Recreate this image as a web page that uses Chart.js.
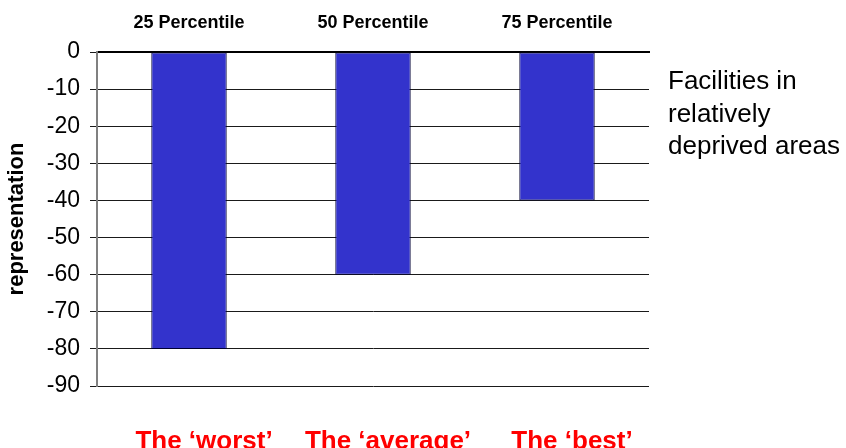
<!DOCTYPE html>
<html>
<head>
<meta charset="utf-8">
<script src="https://cdn.jsdelivr.net/npm/chart.js@4.4.1/dist/chart.umd.min.js"></script>
<style>
  html, body { margin: 0; padding: 0; background: #ffffff; }
  #wrap { width: 846px; height: 448px; }
</style>
</head>
<body>
<div id="wrap"><canvas id="c" width="846" height="448"></canvas></div>
<script>
const topLabels = ['25 Percentile', '50 Percentile', '75 Percentile'];
const bottomLabels = ['The \u2018worst\u2019', 'The \u2018average\u2019', 'The \u2018best\u2019'];
const values = [-80, -60, -40];
const yTitle = 'representation';
const seriesNameLines = ['Facilities in', 'relatively', 'deprived areas'];

const FONT = '"Liberation Sans", Arial, sans-serif';

const sideText = {
  id: 'sideText',
  afterDraw(chart) {
    const ctx = chart.ctx;
    ctx.save();
    ctx.fillStyle = '#000000';
    ctx.font = '26px ' + FONT;
    ctx.textAlign = 'left';
    ctx.textBaseline = 'alphabetic';
    const x = chart.chartArea.right + 19;
    seriesNameLines.forEach((t, i) => ctx.fillText(t, x, 89 + i * 32.5));
    ctx.restore();
  }
};

new Chart(document.getElementById('c'), {
  type: 'bar',
  data: {
    labels: topLabels,
    datasets: [{
      label: seriesNameLines.join(' '),
      data: values,
      backgroundColor: '#3333CC',
      borderColor: '#000033',
      borderWidth: 1,
      borderSkipped: false,
      categoryPercentage: 1,
      barPercentage: 0.41,
      xAxisID: 'x',
      yAxisID: 'y'
    }]
  },
  options: {
    responsive: false,
    animation: false,
    devicePixelRatio: 1,
    layout: { padding: { left: 0, right: 197, top: 0, bottom: 0 } },
    plugins: {
      legend: { display: false },
      tooltip: { enabled: false }
    },
    scales: {
      x: {
        type: 'category',
        position: 'top',
        grid: { display: false },
        border: { display: true, color: '#000000', width: 2 },
        ticks: {
          color: '#000000',
          font: { family: FONT, size: 18, weight: 'bold' },
          padding: 10,
          maxRotation: 0
        },
        afterFit(s) { s.height = 52; }
      },
      x2: {
        type: 'category',
        position: 'bottom',
        labels: bottomLabels,
        grid: { display: false },
        border: { display: false },
        ticks: {
          color: '#FF0000',
          font: { family: FONT, size: 26, weight: 'bold' },
          padding: 32,
          labelOffset: 15,
          maxRotation: 0
        },
        afterFit(s) { s.height = 62; }
      },
      y: {
        min: -90,
        max: 0,
        position: 'left',
        ticks: {
          stepSize: 10,
          color: '#000000',
          font: { family: FONT, size: 23 },
          padding: 10
        },
        grid: { color: '#1a1a1a', lineWidth: 1, tickLength: 7 },
        border: { display: true, color: '#808080', width: 2 },
        title: {
          display: true,
          text: yTitle,
          color: '#000000',
          font: { family: FONT, size: 22, weight: 'bold' },
          padding: { top: 4, bottom: 0 }
        },
        afterFit(s) { s.width = 97; }
      }
    }
  },
  plugins: [sideText]
});
</script>
</body>
</html>
